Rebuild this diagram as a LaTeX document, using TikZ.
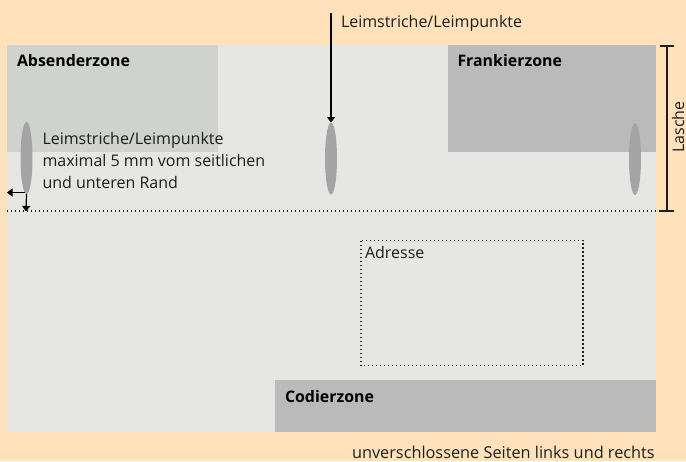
\documentclass[tikz,border=0pt]{standalone}
\usepackage{fontspec}
\setmainfont{Open Sans}
\definecolor{bgc}{HTML}{FFE2BB}
\definecolor{env}{HTML}{E6E6E5}
\definecolor{zonea}{HTML}{D0D2CF}
\definecolor{zoneb}{HTML}{B9BAB9}
\definecolor{glue}{HTML}{A3A4A3}
\definecolor{txt}{HTML}{1D1D1B}
\tikzset{
  x=1pt,y=-1pt,
  lab/.style={inner sep=0pt,outer sep=0pt,anchor=base west,text=txt,font=\fontsize{16}{20}\selectfont},
  zonelab/.style={inner sep=0pt,outer sep=0pt,anchor=base west,text=black,font=\fontsize{15.9}{20}\selectfont\bfseries},
  gluespot/.style={ellipse,fill=glue,minimum width=12pt,minimum height=72pt,inner sep=0pt,outer sep=0pt},
  pointer/.style={draw=black,line width=1.2pt,-{Triangle[length=5.5pt,width=8pt]}},
  bar/.style={draw=txt,line width=1.2pt},
  dots/.style={draw=txt,line width=1.3pt,dash pattern=on 1.3pt off 2.7pt}
}
\usetikzlibrary{shapes.geometric,arrows.meta}
\begin{document}
\begin{tikzpicture}
\useasboundingbox (0,0) rectangle (686,461);
\fill[bgc] (0,0) rectangle (686,461);
\fill[env] (7,45) rectangle (656,432);
\fill[zonea] (7,45) rectangle (218,152);
\fill[zoneb] (448,45) rectangle (656,152);
\fill[zoneb] (275,380) rectangle (656,432);
\node[gluespot] (g1) at (26.5,158) {};
\node[gluespot] (g2) at (331,158.5) {};
\node[gluespot] (g3) at (635,159) {};
\draw[dots] (361,240.7) rectangle (583,365.7);
\coordinate (dl) at (7,211);
\coordinate (dr) at (660,211);
\draw[dots] (dl) -- (dr);
\node[zonelab] (abs) at (17,66.5) {Absenderzone};
\node[zonelab] (fra) at (457.5,66.5) {Frankierzone};
\node[zonelab] (cod) at (285,402) {Codierzone};
\node[lab] (adr) at (365,258.5) {Adresse};
\node[lab] (top) at (341,27.5) {Leimstriche/Leimpunkte};
\node[lab] (l1) at (42.5,144) {Leimstriche/Leimpunkte};
\node[lab] (l2) at (42.5,166) {maximal 5 mm vom seitlichen};
\node[lab] (l3) at (42.5,188) {und unteren Rand};
\node[lab,font=\fontsize{16.3}{20}\selectfont] (bot) at (352,458) {unverschlossene Seiten links und rechts};
\node[lab,rotate=90] (las) at (684,152.5) {Lasche};
\coordinate (t0) at (331,13);
\coordinate (a0) at (25,192.5);
\coordinate (a1) at (7,192.5);
\coordinate (b1) at (26,211.5);
\draw[pointer] (t0) -- (g2.north);
\draw[pointer] (a0) -- (a1);
\draw[pointer] (g1.south) -- (b1);
\coordinate (lt) at (667,46);
\coordinate (lb) at (667,211);
\draw[bar] (lt) -- (lb);
\draw[bar] (660,46) -- (674,46);
\draw[bar] (660,211) -- (674,211);
\end{tikzpicture}
\end{document}
